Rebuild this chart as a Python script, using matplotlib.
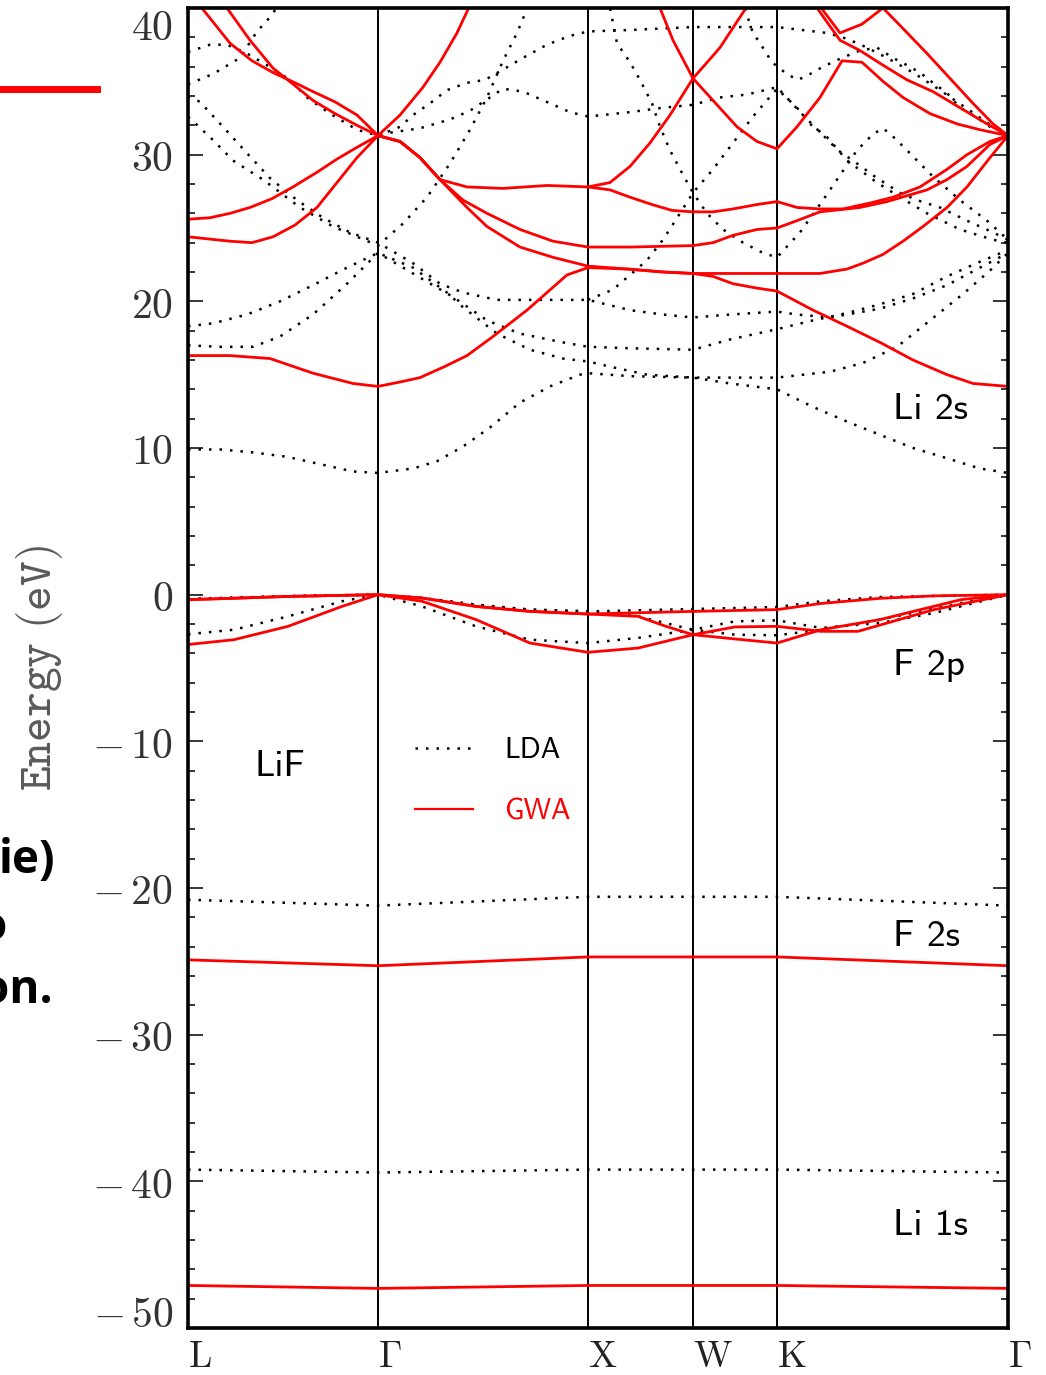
"""LiF band structure: LDA (dotted) vs GWA (red) along L-G-X-W-K-G."""

import matplotlib
matplotlib.use("Agg")
import matplotlib.pyplot as plt
from matplotlib.lines import Line2D
from matplotlib.ticker import MultipleLocator

# high-symmetry points along the k-path (path length, arb. units)
K_SYM = [0.0, 1.90, 4.00, 5.05, 5.89, 8.20]
K_LABELS = [r"$\mathrm{L}$", r"$\Gamma$", r"$\mathrm{X}$", r"$\mathrm{W}$",
            r"$\mathrm{K}$", r"$\Gamma$"]
E_TICKS = [-50, -40, -30, -20, -10, 0, 10, 20, 30, 40]

# ---- GWA bands (k, E in eV) ----
gwa_li1s = [(0.00, -47.1), (0.95, -47.2), (1.90, -47.3), (2.95, -47.2), (4.00, -47.1),
            (5.05, -47.1), (5.89, -47.1), (7.05, -47.2), (8.20, -47.3)]
gwa_f2s = [(0.00, -24.9), (0.95, -25.1), (1.90, -25.3), (2.95, -25.0), (4.00, -24.7),
           (5.05, -24.7), (5.89, -24.7), (7.05, -25.0), (8.20, -25.3)]
gwa_vb1 = [(0.00, -0.34), (0.46, -0.25), (1.00, -0.12), (1.90, 0.0), (2.34, -0.23),
           (2.88, -0.80), (3.42, -1.14), (4.00, -1.32), (5.05, -1.14), (5.89, -1.02),
           (6.33, -0.60), (6.92, -0.25), (7.46, -0.08), (8.20, 0.0)]
gwa_vb2 = [(0.00, -3.40), (0.46, -3.07), (1.00, -2.16), (1.54, -0.80), (1.90, 0.0),
           (2.34, -0.45), (2.88, -1.70), (3.42, -3.30), (4.00, -3.93), (4.50, -3.64),
           (5.05, -2.73), (5.47, -3.02), (5.89, -3.30), (6.33, -2.39), (6.92, -1.70),
           (7.73, -0.34), (8.20, 0.0)]
gwa_vb3 = [(0.00, -0.34), (1.00, -0.12), (1.90, 0.0), (2.34, -0.23), (2.88, -0.80),
           (3.42, -1.14), (4.00, -1.32), (4.50, -1.48), (4.78, -2.16), (5.05, -2.73),
           (5.47, -2.20), (5.89, -2.16), (6.33, -2.50), (6.70, -2.50), (7.46, -1.02),
           (8.20, 0.0)]
gwa_cb1 = [(0.00, 16.3), (0.42, 16.3), (0.82, 16.1), (1.25, 15.1), (1.65, 14.4),
           (1.90, 14.2), (2.12, 14.5), (2.32, 14.8), (2.55, 15.5), (2.79, 16.3),
           (3.05, 17.6), (3.39, 19.4), (3.79, 21.8), (4.00, 22.3), (4.40, 22.2),
           (4.75, 22.0), (5.05, 21.9), (5.25, 21.7), (5.45, 21.2), (5.69, 20.9),
           (5.89, 20.7), (6.25, 19.4), (6.59, 18.3), (6.92, 17.2), (7.25, 16.0),
           (7.59, 15.0), (7.85, 14.4), (8.20, 14.2)]
gwa_cb2 = [(0.00, 24.4), (0.42, 24.1), (0.64, 24.0), (0.85, 24.4), (1.07, 25.2),
           (1.29, 26.4), (1.49, 28.1), (1.69, 29.8), (1.90, 31.3), (2.12, 30.9),
           (2.32, 29.8), (2.52, 28.3), (2.79, 26.4), (2.99, 25.1), (3.32, 23.7),
           (3.65, 23.0), (4.00, 22.4), (4.40, 22.2), (4.75, 22.0), (5.05, 21.9),
           (5.89, 21.9), (6.32, 21.9), (6.59, 22.2), (6.75, 22.6), (6.95, 23.2),
           (7.15, 24.1), (7.35, 25.1), (7.59, 26.4), (7.79, 27.8), (8.02, 29.8),
           (8.20, 31.3)]
gwa_cb3 = [(0.00, 25.6), (0.22, 25.7), (0.42, 26.0), (0.62, 26.4), (0.84, 27.0),
           (1.05, 27.8), (1.29, 28.8), (1.49, 29.7), (1.69, 30.5), (1.90, 31.3),
           (2.12, 30.9), (2.32, 29.8), (2.52, 28.3), (2.75, 26.9), (2.99, 26.0),
           (3.32, 24.9), (3.65, 24.1), (4.00, 23.7), (4.42, 23.7), (5.05, 23.8),
           (5.25, 24.0), (5.45, 24.5), (5.69, 24.9), (5.89, 25.0), (6.09, 25.5),
           (6.32, 26.1), (6.72, 26.4), (6.99, 26.8), (7.39, 27.6), (7.59, 28.3),
           (7.79, 29.2), (8.02, 30.7), (8.20, 31.3)]
gwa_cb4 = [(0.00, 41.3), (0.15, 39.9), (0.42, 37.6), (0.64, 36.4), (0.85, 35.6),
           (1.07, 34.9), (1.25, 34.3), (1.47, 33.6), (1.69, 32.7), (1.90, 31.3),
           (2.12, 30.9), (2.32, 29.8), (2.52, 28.3), (2.79, 27.8), (3.15, 27.7),
           (3.59, 27.9), (4.00, 27.8), (4.22, 27.6), (4.42, 27.1), (4.64, 26.6),
           (4.84, 26.2), (5.05, 26.1), (5.25, 26.1), (5.45, 26.3), (5.69, 26.6),
           (5.89, 26.8), (6.09, 26.4), (6.32, 26.3), (6.55, 26.3), (6.82, 26.7),
           (7.05, 27.1), (7.32, 27.8), (7.59, 29.0), (7.79, 30.0), (8.02, 30.9),
           (8.20, 31.3)]
gwa_cb5 = [(0.00, 42.0), (0.40, 39.9), (0.62, 37.8), (0.85, 35.9), (1.07, 34.7),
           (1.25, 33.7), (1.47, 32.8), (1.69, 32.0), (1.90, 31.3), (2.12, 32.7),
           (2.35, 34.6), (2.52, 36.3), (2.69, 38.3), (2.80, 39.9), (2.90, 41.3)]
gwa_cb6 = [(4.00, 27.8), (4.22, 28.1), (4.42, 29.2), (4.62, 30.8), (4.82, 32.7),
           (5.05, 35.2), (5.32, 37.3), (5.57, 39.9), (5.70, 41.3)]
gwa_cb7 = [(4.62, 41.5), (4.72, 40.0), (4.85, 37.8), (5.05, 35.2), (5.25, 33.7),
           (5.49, 31.9), (5.69, 30.9), (5.89, 30.4), (6.09, 31.9), (6.32, 33.9),
           (6.54, 36.4), (6.74, 36.3), (6.95, 35.0), (7.15, 33.9), (7.42, 32.8),
           (7.69, 32.1), (7.92, 31.7), (8.20, 31.3)]
gwa_cb8 = [(6.15, 41.5), (6.29, 40.0), (6.52, 37.8), (6.72, 37.1), (6.95, 36.1),
           (7.19, 35.1), (7.45, 34.3), (7.72, 33.2), (7.99, 32.1), (8.20, 31.3)]
gwa_cb9 = [(6.20, 41.2), (6.52, 38.3), (6.74, 38.9), (6.95, 40.0), (7.15, 38.6),
           (7.39, 36.9), (7.62, 35.2), (7.85, 33.5), (8.05, 32.1), (8.20, 31.3)]

# ---- LDA bands (k, E in eV) ----
lda_li1s = [(0.00, -39.2), (0.95, -39.3), (1.90, -39.4), (2.95, -39.3), (4.00, -39.2),
            (5.05, -39.2), (5.89, -39.2), (7.05, -39.3), (8.20, -39.4)]
lda_f2s = [(0.00, -20.8), (0.95, -21.0), (1.90, -21.2), (2.95, -20.9), (4.00, -20.6),
           (5.05, -20.6), (5.89, -20.6), (7.05, -20.9), (8.20, -21.2)]
lda_vb1 = [(0.00, -0.30), (1.00, -0.10), (1.90, 0.0), (2.34, -0.23), (2.88, -0.68),
           (3.42, -1.02), (4.00, -1.14), (5.05, -0.98), (5.89, -0.84), (6.33, -0.45),
           (6.92, -0.16), (8.20, 0.0)]
lda_vb2 = [(0.00, -2.70), (0.46, -2.39), (1.00, -1.48), (1.54, -0.45), (1.90, 0.0),
           (2.34, -0.80), (2.88, -2.16), (3.42, -3.07), (4.00, -3.30), (4.50, -2.95),
           (5.05, -2.39), (5.47, -2.73), (5.89, -2.77), (6.33, -2.39), (6.92, -1.70),
           (7.73, -0.57), (8.20, 0.0)]
lda_vb3 = [(0.00, -0.30), (1.00, -0.10), (1.90, 0.0), (2.34, -0.23), (2.88, -0.68),
           (3.42, -1.02), (4.00, -1.14), (4.50, -1.48), (5.05, -2.39), (5.47, -1.82),
           (5.89, -1.75), (6.33, -2.27), (6.92, -1.93), (7.46, -1.25), (8.20, 0.0)]
lda_cb1 = [(0.00, 9.9), (0.32, 9.9), (0.65, 9.7), (0.99, 9.4), (1.32, 8.9), (1.65, 8.4),
           (1.90, 8.3), (2.25, 8.6), (2.49, 9.1), (2.75, 10.1), (3.02, 11.4),
           (3.32, 13.1), (3.62, 14.2), (3.92, 15.0), (4.00, 15.1), (4.42, 14.9),
           (5.05, 14.8), (5.42, 14.4), (5.89, 14.0), (6.25, 12.8), (6.59, 11.8),
           (6.92, 10.9), (7.25, 10.0), (7.59, 9.3), (7.92, 8.6), (8.20, 8.3)]
lda_cb2 = [(0.00, 17.0), (0.32, 16.9), (0.65, 16.9), (0.92, 17.6), (1.25, 19.1),
           (1.59, 21.2), (1.90, 23.3), (2.25, 21.9), (2.65, 20.3), (2.99, 18.7),
           (3.32, 17.8), (3.75, 17.2), (4.00, 16.9), (4.42, 16.8), (5.05, 16.7),
           (5.42, 17.4), (5.89, 18.1), (6.25, 18.7), (6.59, 19.2), (6.92, 19.8),
           (7.25, 20.5), (7.59, 21.7), (7.92, 22.7), (8.20, 23.5)]
lda_cb3 = [(0.00, 18.3), (0.25, 18.5), (0.59, 19.1), (0.92, 20.0), (1.25, 21.1),
           (1.59, 22.3), (1.90, 23.3), (2.25, 22.3), (2.59, 20.6), (2.75, 19.6),
           (3.09, 17.8), (3.42, 16.7), (3.75, 16.1), (4.00, 15.9), (4.25, 15.5),
           (4.59, 15.0), (5.05, 14.8), (5.89, 14.8), (6.42, 15.2), (6.75, 15.8),
           (7.09, 16.9), (7.42, 18.7), (7.75, 20.5), (8.02, 22.1), (8.20, 23.3)]
lda_cb4 = [(0.00, 34.0), (0.12, 33.6), (0.35, 31.9), (0.59, 30.1), (0.82, 28.4),
           (1.09, 26.9), (1.35, 25.7), (1.62, 24.7), (1.90, 24.0), (2.25, 22.6),
           (2.52, 21.2), (2.75, 20.6), (3.09, 20.1), (3.59, 20.1), (4.00, 20.1),
           (4.42, 19.4), (4.75, 19.1), (5.05, 18.9), (5.42, 19.1), (5.89, 19.3),
           (6.09, 19.1), (6.42, 18.9), (6.92, 19.5), (7.25, 20.2), (7.59, 21.1),
           (7.92, 22.3), (8.20, 23.3)]
lda_cb5 = [(0.00, 32.6), (0.25, 31.0), (0.45, 29.6), (0.75, 28.3), (1.12, 26.4),
           (1.45, 25.1), (1.90, 23.8), (2.15, 25.3), (2.39, 27.1), (2.62, 29.4),
           (2.82, 31.7), (2.99, 33.9), (3.15, 36.4), (3.29, 38.3), (3.37, 39.6),
           (3.45, 41.0)]
lda_cb6 = [(0.00, 34.8), (0.25, 35.5), (0.52, 36.6), (0.69, 38.4), (0.85, 39.6),
           (0.95, 41.0)]
lda_cb7 = [(0.00, 37.0), (0.22, 37.5), (0.39, 37.5), (0.59, 36.9), (0.79, 36.1),
           (1.02, 35.1), (1.19, 33.9), (1.42, 32.8), (1.69, 31.7), (1.90, 31.3),
           (2.02, 31.5), (2.32, 31.8), (2.62, 32.4), (2.82, 33.0), (3.02, 33.9),
           (3.15, 34.5), (3.35, 34.3), (3.62, 33.5), (3.82, 32.9), (4.00, 32.6),
           (4.42, 32.9), (4.75, 33.2), (5.05, 33.4), (5.32, 33.9), (5.59, 34.1),
           (5.89, 34.6), (6.15, 32.7), (6.50, 30.3), (6.69, 29.4), (6.87, 28.5),
           (7.12, 27.4), (7.29, 26.9), (7.52, 26.4), (7.79, 25.5), (8.05, 24.7),
           (8.20, 24.2)]
lda_cb8 = [(1.90, 31.3), (2.12, 31.9), (2.25, 32.7), (2.42, 33.5), (2.59, 34.4),
           (2.79, 34.9), (2.97, 35.1), (3.15, 35.8), (3.35, 36.6), (3.59, 37.5),
           (3.82, 38.1), (4.00, 38.4), (4.42, 38.5), (5.05, 38.7), (5.89, 38.7),
           (6.39, 38.3), (6.59, 37.9), (6.79, 37.3), (6.99, 36.6), (7.25, 35.6),
           (7.52, 34.4), (7.82, 33.0), (8.05, 31.9), (8.20, 31.5)]
lda_cb9 = [(4.00, 20.1), (4.25, 20.8), (4.59, 22.8), (4.75, 24.2), (4.92, 26.0),
           (5.05, 27.4), (5.25, 29.0), (5.45, 30.8), (5.65, 32.6), (5.89, 34.5),
           (6.09, 33.2), (6.22, 32.1), (6.39, 31.2), (6.59, 29.6), (6.89, 28.1),
           (7.12, 27.1), (7.39, 26.0), (7.72, 24.9), (8.05, 24.2), (8.20, 24.0)]
lda_cb10 = [(4.15, 41.0), (4.22, 40.0), (4.29, 37.6), (4.42, 36.3), (4.52, 35.1),
            (4.64, 33.5), (4.72, 31.9), (4.82, 30.3), (4.92, 29.0), (5.05, 27.4),
            (5.19, 26.0), (5.35, 24.9), (5.55, 24.0), (5.75, 23.3), (5.89, 23.0),
            (6.12, 24.7), (6.35, 26.9), (6.52, 28.6), (6.69, 30.3), (6.85, 31.4),
            (6.95, 31.8), (7.04, 31.3), (7.19, 30.3), (7.32, 29.4), (7.45, 28.5),
            (7.72, 26.9), (7.99, 25.5), (8.20, 24.2)]
lda_cb11 = [(5.50, 41.0), (5.57, 39.9), (5.65, 38.3), (5.72, 37.6), (5.84, 36.3),
            (5.97, 35.6), (6.09, 35.1), (6.17, 35.3), (6.35, 36.0), (6.54, 36.6),
            (6.72, 37.1), (6.89, 37.3), (7.05, 36.6), (7.19, 36.1), (7.32, 35.6),
            (7.45, 34.9), (7.59, 34.2), (7.72, 33.2), (7.85, 32.7), (8.02, 31.9),
            (8.20, 31.5)]

GWA_BANDS = [gwa_li1s, gwa_f2s, gwa_vb1, gwa_vb2, gwa_vb3, gwa_cb1, gwa_cb2, gwa_cb3,
             gwa_cb4, gwa_cb5, gwa_cb6, gwa_cb7, gwa_cb8, gwa_cb9]
LDA_BANDS = [lda_li1s, lda_f2s, lda_vb1, lda_vb2, lda_vb3, lda_cb1, lda_cb2, lda_cb3,
             lda_cb4, lda_cb5, lda_cb6, lda_cb7, lda_cb8, lda_cb9, lda_cb10, lda_cb11]

# orbital labels (text, k, E)
ORBITALS = [("Li 2s", 7.05, 12.6), ("F 2p", 7.05, -4.8),
            ("F 2s", 7.05, -23.3), ("Li 1s", 7.05, -43.0)]

plt.rcParams["mathtext.fontset"] = "cm"
SANS = "cmss10"
RED = "#ff0000"
DOTS = (0, (1, 3.2))
TICK_GREY = "#333333"


def energy_label(v):
    return rf"$-\,{-v}$" if v < 0 else rf"${v}$"


fig = plt.figure(figsize=(10.46, 13.75), dpi=100)
ax = fig.add_axes([188 / 1046, 1 - 1328 / 1375, 820 / 1046, 1320 / 1375])

for band in LDA_BANDS:
    k, e = zip(*band)
    ax.plot(k, e, color="black", lw=1.8, ls=DOTS)
for band in GWA_BANDS:
    k, e = zip(*band)
    ax.plot(k, e, color=RED, lw=2.0, solid_joinstyle="round")

for ks in K_SYM[1:-1]:
    ax.axvline(ks, color="black", lw=1.4, zorder=1)

ax.set_xlim(K_SYM[0], K_SYM[-1])
ax.set_ylim(E_TICKS[0], E_TICKS[-1])
for sp in ax.spines.values():
    sp.set_linewidth(2.6)

# x axis: high-symmetry labels, left-aligned on their lines
ax.set_xticks(K_SYM, K_LABELS)
for lab in ax.get_xticklabels():
    lab.set_horizontalalignment("left")
ax.tick_params(axis="x", length=0, pad=8, labelsize=27, labelcolor="#222")

# y axis: the two end labels sit inside the frame in the original,
# so they are drawn as separate annotations
inner = E_TICKS[1:-1]
ax.set_yticks(E_TICKS, [""] + [energy_label(v) for v in inner] + [""])
ax.yaxis.set_minor_locator(MultipleLocator(2))
ax.tick_params(axis="y", which="both", direction="in", left=True, right=True, width=1.1)
ax.tick_params(axis="y", which="major", length=11, pad=11, labelsize=30,
               labelcolor=TICK_GREY)
ax.tick_params(axis="y", which="minor", length=5)
for v, dy in [(E_TICKS[-1], -20), (E_TICKS[0], 13)]:
    ax.annotate(energy_label(v), xy=(0, v), xycoords=("axes fraction", "data"),
                xytext=(-15, dy), textcoords="offset pixels",
                ha="right", va="center", fontsize=30, color=TICK_GREY)

ax.set_ylabel(r"$\mathtt{Energy\ (eV)}$", fontsize=34, color="#5a5a5a")
ax.yaxis.set_label_coords(-0.150, 0.5)

# labels inside the plot
ax.text(0.67, -11.7, "LiF", family=SANS, fontsize=27, ha="left", va="center")
for name, k, e in ORBITALS:
    ax.text(k, e, name, family=SANS, fontsize=27, ha="left", va="center")

handles = [Line2D([], [], color="black", lw=1.8, ls=DOTS),
           Line2D([], [], color=RED, lw=1.6)]
ax.legend(handles, ["LDA", "GWA"], loc="center left", bbox_to_anchor=(2.27, -12.7),
          bbox_transform=ax.transData, frameon=False, borderpad=0, borderaxespad=0,
          handlelength=2.0, handletextpad=1.07, labelspacing=1.18,
          labelcolor=["black", RED], prop={"family": SANS, "size": 21})

# slide fragments cut by the crop on the left
fig.add_artist(Line2D([0, 97 / 1046], [1 - 89 / 1375] * 2, color=RED, lw=5,
                      transform=fig.transFigure))
for txt, x, y in [("ie)", 55, 873), ("o", 7, 940), ("on.", 53, 1003)]:
    fig.text(x / 1046, 1 - y / 1375, txt, ha="right", va="baseline",
             family="Open Sans", weight="bold", fontsize=33, color="black")

fig.savefig("out.png", dpi=100)
